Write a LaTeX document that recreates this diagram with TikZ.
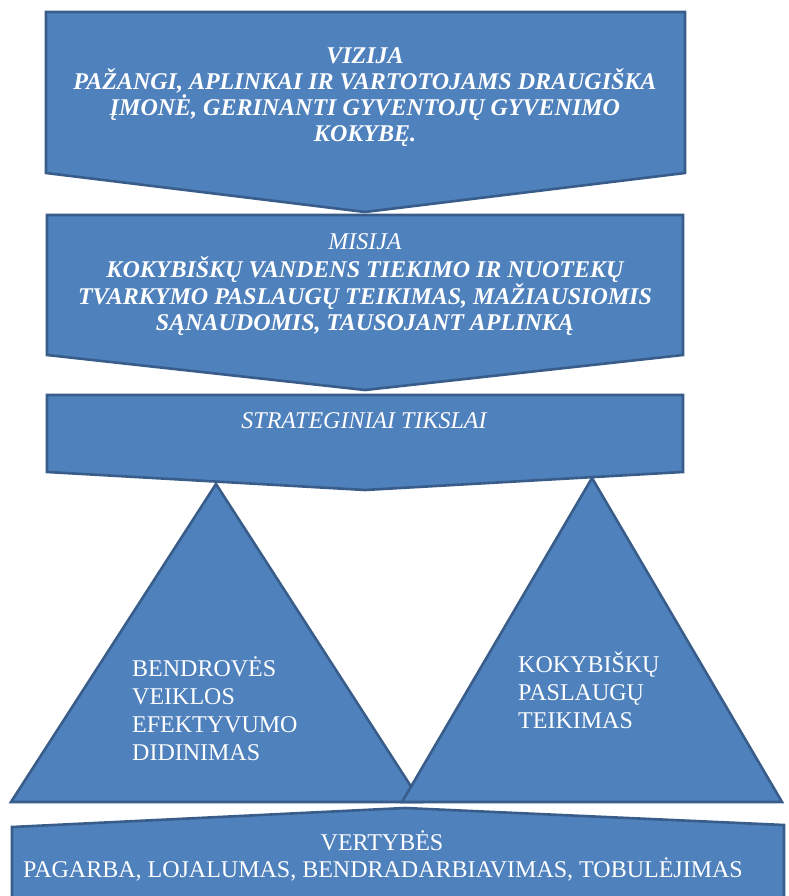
\documentclass[tikz,border=0pt]{standalone}
\usepackage{fontspec}
\setmainfont{Liberation Serif}
\definecolor{boxfill}{HTML}{4F81BD}
\definecolor{boxline}{HTML}{385D8A}
\begin{document}
\begin{tikzpicture}[x=1pt,y=-1pt,
  shp/.style={fill=boxfill,draw=boxline,line width=2.6pt,line join=miter},
  txt/.style={text=white,inner sep=0pt,anchor=base,font=\fontsize{24}{27}\selectfont},
  bi/.style={txt,font=\fontsize{24}{27}\selectfont\bfseries\itshape},
  it/.style={txt,font=\fontsize{24}{27}\selectfont\itshape},
  lt/.style={txt,anchor=base west}]
\useasboundingbox (0,0) rectangle (788,896);
\fill[white] (0,0) rectangle (788,896);
% shapes
\draw[shp] (46,12) -- (685,12) -- (685,173) -- (365,212) -- (46,173) -- cycle;
\draw[shp] (47,215) -- (683,215) -- (683,355) -- (365,390) -- (47,355) -- cycle;
\draw[shp] (47,395) -- (683,395) -- (683,472) -- (365,490) -- (47,472) -- cycle;
\draw[shp] (11,802) -- (216,484) -- (421,802) -- cycle;
\draw[shp] (402,802) -- (592,478) -- (782,802) -- cycle;
\draw[shp] (12,827) -- (405,808) -- (784,825) -- (784,910) -- (12,910) -- cycle;
% texts
\node[bi] (v0) at (365,64) {VIZIJA};
\node[bi] (v1) at (365,90) {PAŽANGI, APLINKAI IR VARTOTOJAMS DRAUGIŠKA};
\node[bi] (v2) at (365,116) {ĮMONĖ, GERINANTI GYVENTOJŲ GYVENIMO};
\node[bi] (v3) at (365,142) {KOKYBĘ.};
\node[it] (m0) at (365,249) {MISIJA};
\node[bi] (m1) at (365,277) {KOKYBIŠKŲ VANDENS TIEKIMO IR NUOTEKŲ};
\node[bi] (m2) at (365,304) {TVARKYMO PASLAUGŲ TEIKIMAS, MAŽIAUSIOMIS};
\node[bi] (m3) at (365,330) {SĄNAUDOMIS, TAUSOJANT APLINKĄ};
\node[it] (s0) at (364,428) {STRATEGINIAI TIKSLAI};
\node[lt] (l1) at (132,676) {BENDROVĖS};
\node[lt] (l2) at (132,704) {VEIKLOS};
\node[lt] (l3) at (132,732) {EFEKTYVUMO};
\node[lt] (l4) at (132,760) {DIDINIMAS};
\node[lt] (r1) at (518,672) {KOKYBIŠKŲ};
\node[lt] (r2) at (518,700) {PASLAUGŲ};
\node[lt] (r3) at (518,728) {TEIKIMAS};
\node[txt] (t0) at (382,850) {VERTYBĖS};
\node[txt] (t1) at (383,877) {PAGARBA, LOJALUMAS, BENDRADARBIAVIMAS, TOBULĖJIMAS};
\end{tikzpicture}
\end{document}
